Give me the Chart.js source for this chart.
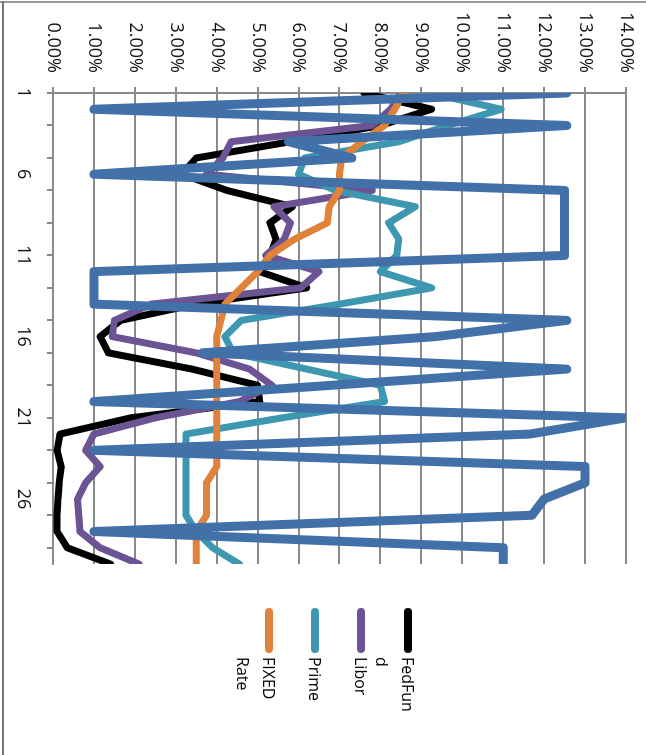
<!DOCTYPE html>
<html>
<head>
<meta charset="utf-8">
<script src="https://cdn.jsdelivr.net/npm/chart.js@4.4.0/dist/chart.umd.min.js"></script>
<style>
  html, body { margin: 0; padding: 0; background: #fff; overflow: hidden; }
  body { width: 646px; height: 755px; position: relative; }
  #frameTop { position: absolute; left: 0; top: 1px; width: 646px; height: 2px; background: #9a9a9a; }
  #frameLeft { position: absolute; left: 2px; top: 1px; width: 2px; height: 754px; background: #777; }
  /* the whole chart is drawn upright and then turned a quarter clockwise */
  #wrap { position: absolute; left: 646px; top: 0; width: 755px; height: 646px;
          transform-origin: 0 0; transform: rotate(90deg); }
  #chart { position: absolute; left: 0; top: 0; }
  .item { position: absolute; left: 608px; }
  .swatch { position: absolute; left: 0; top: -4px; width: 45px; height: 8px; border-radius: 4px; }
  .name { position: absolute; left: 49px; top: -13px; width: 60px; font: 16px 'Open Sans', sans-serif;
          line-height: 26px; overflow-wrap: anywhere; color: #000; }
</style>
</head>
<body>
<div id="frameTop"></div>
<div id="frameLeft"></div>
<div id="wrap">
  <canvas id="chart" width="755" height="646"></canvas>
  <div id="legend"></div>
</div>
<script>
const labels = ['1','2','3','4','5','6','7','8','9','10','11','12','13','14','15',
                '16','17','18','19','20','21','22','23','24','25','26','27','28','29','30'];

const fedFund = [7.6, 9.25, 8.0, 5.8, 3.5, 3.15, 4.25, 5.85, 5.3, 5.45, 5.3, 5.05, 6.2, 3.5, 1.65,
                 1.15, 1.35, 3.4, 5.0, 5.05, 1.9, 0.17, 0.1, 0.2, 0.15, 0.12, 0.1, 0.1, 0.35, 1.4];
const libor = [8.5, 8.25, 7.8, 4.35, 4.15, 3.75, 7.8, 5.4, 5.8, 5.65, 5.2, 6.5, 6.05, 2.4, 1.5,
               1.45, 3.5, 4.8, 5.35, 4.55, 2.5, 1.0, 0.8, 1.15, 0.8, 0.6, 0.63, 0.66, 1.15, 2.1];
const prime = [9.2, 10.95, 9.65, 8.45, 6.15, 6.0, 6.9, 8.85, 8.2, 8.45, 8.4, 8.0, 9.25, 7.0, 4.6,
               4.2, 4.4, 6.2, 8.0, 8.1, 5.6, 3.25, 3.25, 3.25, 3.25, 3.25, 3.25, 3.5, 3.9, 4.55];
const fixedRate = [8.55, 8.35, 8.1, 7.55, 7.05, 7.0, 7.0, 6.75, 6.7, 5.9, 5.3, 5.0, 4.6, 4.2, 4.1,
                   4.0, 4.0, 4.0, 4.0, 4.0, 4.0, 4.0, 4.0, 4.0, 3.75, 3.75, 3.75, 3.5, 3.5, 3.5];
// fifth series, not listed in the legend
const series5 = [12.55, 1.0, 12.55, 5.75, 7.3, 1.0, 12.5, 12.5, 12.5, 12.5, 12.5, 1.0, 1.0, 1.0, 12.55,
                 9.35, 3.65, 12.55, 6.8, 1.0, 14.0, 11.65, 1.0, 13.0, 13.0, 12.0, 11.7, 1.0, 11.0, 11.0];

const legendNames = ['FedFund', 'Libor', 'Prime', 'FIXED Rate'];
const yTicks = [0, 14, 1];   // min, max, step

const colors = ['#000000', '#6b5394', '#3d97b0', '#e0823a', '#4270a8'];
const gridColor = '#8a8a8a';

function line(label, data, color, order, width) {
    return {
        label: label,
        data: data,
        borderColor: color,
        backgroundColor: color,
        borderWidth: width,
        pointRadius: 0,
        tension: 0,
        fill: false,
        borderCapStyle: 'round',
        borderJoinStyle: 'round',
        clip: 0,
        order: order,   // lower order is drawn on top
    };
}

// pin the plot box; drop the extra room chart.js keeps for end labels
function noEndPadding(scale) {
    scale.paddingTop = 0;
    scale.paddingBottom = 0;
    scale.paddingLeft = 0;
    scale.paddingRight = 0;
}

Chart.defaults.font.family = "'Open Sans', sans-serif";
Chart.defaults.color = '#111';

new Chart(document.getElementById('chart'), {
    type: 'line',
    data: {
        labels: labels,
        datasets: [
            line(legendNames[0], fedFund, colors[0], 5, 7),
            line(legendNames[1], libor, colors[1], 4, 7),
            line(legendNames[2], prime, colors[2], 3, 7),
            line(legendNames[3], fixedRate, colors[3], 2, 7),
            line('Series5', series5, colors[4], 1, 9),
        ]
    },
    options: {
        responsive: false,
        animation: false,
        events: [],
        layout: { padding: { top: 20, right: 191, bottom: 0, left: 0 } },
        plugins: {
            legend: { display: false },
            tooltip: { enabled: false }
        },
        scales: {
            x: {
                offset: false,
                afterFit: (scale) => { scale.height = 53; noEndPadding(scale); },
                grid: {
                    drawOnChartArea: false,
                    tickLength: 6,
                    lineWidth: 2,
                    // tick mark on every second category
                    color: (ctx) => ctx.index % 2 === 0 ? gridColor : 'rgba(0,0,0,0)'
                },
                border: { display: true, color: gridColor, width: 2 },
                ticks: {
                    autoSkip: false,
                    maxRotation: 0,
                    padding: 13,
                    font: { size: 18 },
                    callback: (val, idx) => idx % 5 === 0 ? labels[idx] : ''
                }
            },
            y: {
                min: yTicks[0],
                max: yTicks[1],
                afterFit: (scale) => { scale.width = 93; noEndPadding(scale); },
                grid: { color: gridColor, lineWidth: 2, tickLength: 6 },
                border: { display: true, color: gridColor, width: 2 },
                ticks: {
                    stepSize: yTicks[2],
                    padding: 14,
                    font: { size: 18 },
                    callback: (v) => v.toFixed(2) + '%'
                }
            }
        }
    }
});

// legend drawn as html so the long names wrap like the original
const legendTops = [238, 285, 331, 377];
const legend = document.getElementById('legend');
legendNames.forEach((name, i) => {
    const item = document.createElement('div');
    item.className = 'item';
    item.style.top = legendTops[i] + 'px';
    item.innerHTML = '<div class="swatch" style="background:' + colors[i] + '"></div>' +
                     '<div class="name">' + name + '</div>';
    legend.appendChild(item);
});
</script>
</body>
</html>
